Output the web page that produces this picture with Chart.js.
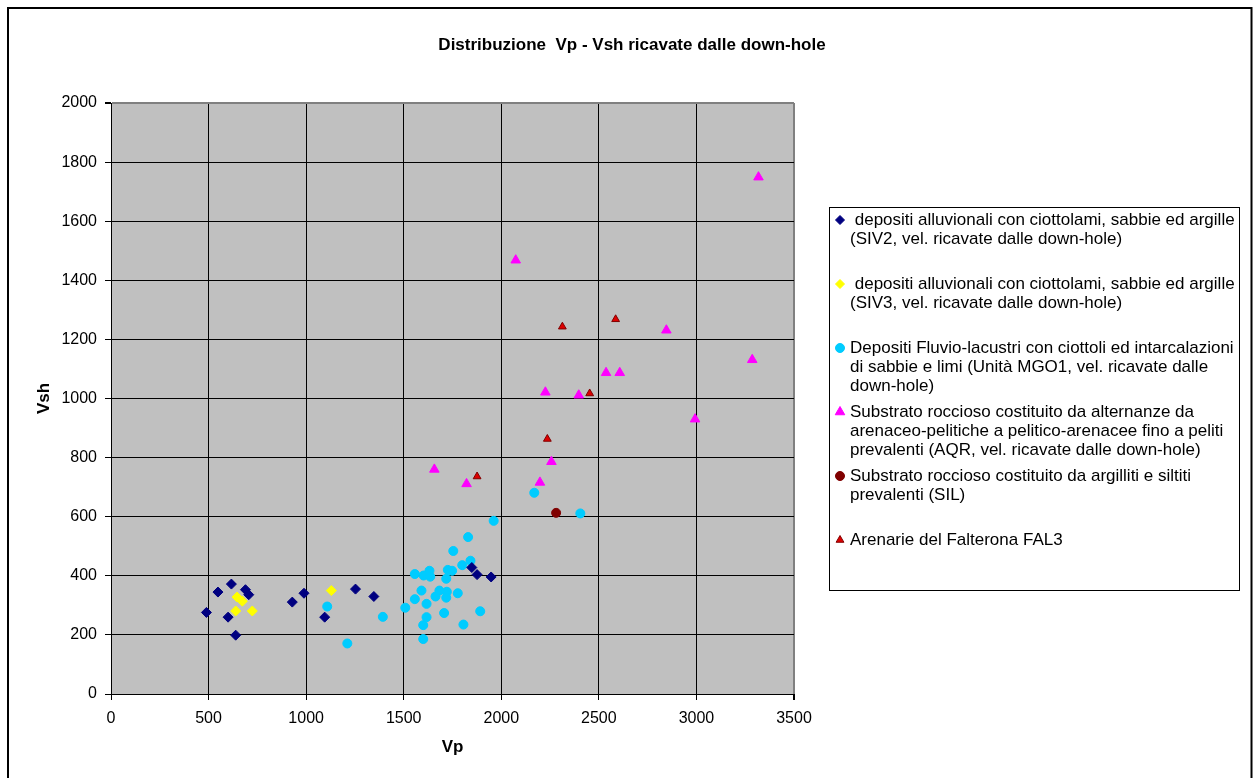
<!DOCTYPE html>
<html>
<head>
<meta charset="utf-8">
<script src="https://cdn.jsdelivr.net/npm/chart.js@4.4.1/dist/chart.umd.min.js"></script>
<style>
  html, body { margin: 0; padding: 0; background: #fff; }
  #wrap { position: relative; width: 1253px; height: 778px; }
</style>
</head>
<body>
<div id="wrap"><canvas id="chart" width="1253" height="778"></canvas></div>
<script>
// Distribuzione Vp - Vsh (down-hole)

const chartTitle = 'Distribuzione  Vp - Vsh ricavate dalle down-hole';
const xTitle = 'Vp';
const yTitle = 'Vsh';
const xTicks = [0, 500, 1000, 1500, 2000, 2500, 3000, 3500];
const yTicks = [0, 200, 400, 600, 800, 1000, 1200, 1400, 1600, 1800, 2000];

// SIV2
const siv2Vp = [489, 548, 617, 689, 706, 600, 639, 929, 989, 1095, 1253, 1347, 1849, 1876, 1948];
const siv2Vs = [276, 345, 372, 353, 336, 260, 199, 311, 341, 260, 355, 330, 428, 404, 396];

// SIV3
const siv3Vp = [646, 673, 639, 724, 1129];
const siv3Vs = [328, 314, 281, 281, 350];

// MGO1
const mgoVp = [1108, 1211, 1393, 1508, 1557, 1557, 1961, 1830, 1754, 1842, 1800, 1632, 1602, 1636, 1726, 1748,
               1718, 1591, 1683, 1721, 1777, 1663, 1718, 1617, 1892, 1707, 1617, 1600, 1806, 1600, 2405, 2169];
const mgoVs = [296, 171, 261, 292, 406, 321, 586, 531, 484, 451, 436, 417, 401, 397, 420, 417,
               390, 350, 350, 346, 341, 330, 326, 305, 280, 274, 260, 233, 235, 186, 611, 681];

// AQR
const aqrVp = [2074, 2846, 3286, 2537, 2607, 2226, 2397, 2993, 2257, 1822, 2198, 1657, 3318];
const aqrVs = [1468, 1231, 1131, 1087, 1087, 1021, 1011, 930, 786, 711, 716, 760, 1749];

// SIL
const silVp = [2281];
const silVs = [613];

// FAL3
const falVp = [2313, 2586, 2453, 2236, 1876];
const falVs = [1243, 1268, 1017, 863, 736];

const seriesNames = [
    [' depositi alluvionali con ciottolami, sabbie ed argille', '(SIV2, vel. ricavate dalle down-hole)'],
    [' depositi alluvionali con ciottolami, sabbie ed argille', '(SIV3, vel. ricavate dalle down-hole)'],
    ['Depositi Fluvio-lacustri con ciottoli ed intarcalazioni', 'di sabbie e limi (Unità MGO1, vel. ricavate dalle', 'down-hole)'],
    ['Substrato roccioso costituito da alternanze da', 'arenaceo-pelitiche a pelitico-arenacee fino a peliti', 'prevalenti (AQR, vel. ricavate dalle down-hole)'],
    ['Substrato roccioso costituito da argilliti e siltiti', 'prevalenti (SIL)'],
    ['Arenarie del Falterona FAL3']
];

const FONT = '"Liberation Sans", Arial, sans-serif';
Chart.defaults.font.family = FONT;
Chart.defaults.color = '#000';

const toPoints = (xs, ys) => xs.map((x, i) => ({ x: x, y: ys[i] }));

function drawMarker(ctx, style, x, y, r, fill, stroke, bw) {
    ctx.save();
    ctx.beginPath();
    if (style === 'rectRot') {
        ctx.moveTo(x - r, y); ctx.lineTo(x, y - r); ctx.lineTo(x + r, y); ctx.lineTo(x, y + r);
        ctx.closePath();
    } else if (style === 'triangle') {
        ctx.moveTo(x, y - r);
        ctx.lineTo(x + Math.sin(2 * Math.PI / 3) * r, y + r / 2);
        ctx.lineTo(x - Math.sin(2 * Math.PI / 3) * r, y + r / 2);
        ctx.closePath();
    } else {
        ctx.arc(x, y, r, 0, Math.PI * 2);
    }
    ctx.fillStyle = fill;
    ctx.fill();
    ctx.lineWidth = bw;
    ctx.strokeStyle = stroke;
    ctx.stroke();
    ctx.restore();
}

// frame, plot background, title and the wrapped legend
const decorations = {
    id: 'decorations',
    beforeDraw(chart) {
        const { ctx, chartArea: a } = chart;
        ctx.save();
        ctx.fillStyle = '#fff';
        ctx.fillRect(0, 0, chart.width, chart.height);
        ctx.fillStyle = '#c0c0c0';
        ctx.fillRect(a.left, a.top, a.right - a.left, a.bottom - a.top);
        ctx.lineWidth = 2;
        ctx.strokeStyle = '#000';
        ctx.strokeRect(8, 8, 1243.5, 800);
        ctx.restore();
    },
    afterDraw(chart) {
        const ctx = chart.ctx;
        ctx.save();
        ctx.fillStyle = '#000';
        ctx.font = 'bold 17px ' + FONT;
        ctx.textAlign = 'center';
        ctx.textBaseline = 'middle';
        ctx.fillText(chartTitle, 632, 45);

        // legend box
        ctx.lineWidth = 1;
        ctx.strokeStyle = '#000';
        ctx.strokeRect(829.5, 207.5, 410, 383);
        ctx.font = '17px ' + FONT;
        ctx.textAlign = 'left';
        chart.data.datasets.forEach((ds, i) => {
            const y0 = 220 + i * 64;
            drawMarker(ctx, ds.pointStyle, 840, y0, ds.legendRadius, ds.backgroundColor, ds.borderColor, 1);
            seriesNames[i].forEach((line, j) => {
                ctx.fillText(line, 850, y0 + j * 19.3);
            });
        });
        ctx.restore();
    }
};

const gridColor = (edge) => (c) => (c.tick && c.tick.value === edge ? '#808080' : '#000');
const gridWidth = (edge) => (c) => (c.tick && c.tick.value === edge ? 2 : 1);

new Chart(document.getElementById('chart'), {
    type: 'scatter',
    data: {
        datasets: [
            {
                label: seriesNames[0].join(' '),
                data: toPoints(siv2Vp, siv2Vs),
                pointStyle: 'rectRot',
                backgroundColor: '#000080',
                borderColor: '#000080',
                pointRadius: 5,
                borderWidth: 1,
                legendRadius: 4.5
            },
            {
                label: seriesNames[1].join(' '),
                data: toPoints(siv3Vp, siv3Vs),
                pointStyle: 'rectRot',
                backgroundColor: '#ffff00',
                borderColor: '#ffff00',
                pointRadius: 5,
                borderWidth: 1,
                legendRadius: 4.5
            },
            {
                label: seriesNames[2].join(' '),
                data: toPoints(mgoVp, mgoVs),
                pointStyle: 'circle',
                backgroundColor: '#00ccff',
                borderColor: '#00ccff',
                pointRadius: 4.5,
                borderWidth: 1,
                legendRadius: 4.5
            },
            {
                label: seriesNames[3].join(' '),
                data: toPoints(aqrVp, aqrVs),
                pointStyle: 'triangle',
                backgroundColor: '#ff00ff',
                borderColor: '#ff00ff',
                pointRadius: 5.5,
                borderWidth: 1,
                legendRadius: 5.5
            },
            {
                label: seriesNames[4].join(' '),
                data: toPoints(silVp, silVs),
                pointStyle: 'circle',
                backgroundColor: '#800000',
                borderColor: '#800000',
                pointRadius: 4.5,
                borderWidth: 1,
                legendRadius: 4.5
            },
            {
                label: seriesNames[5].join(' '),
                data: toPoints(falVp, falVs),
                pointStyle: 'triangle',
                backgroundColor: '#dd0000',
                borderColor: '#800000',
                pointRadius: 4.5,
                borderWidth: 1,
                legendRadius: 4.5
            }
        ]
    },
    options: {
        responsive: false,
        animation: false,
        layout: { padding: { top: 103, right: 459, bottom: 0, left: 0 } },
        plugins: {
            legend: { display: false },
            title: { display: false },
            tooltip: { enabled: false }
        },
        scales: {
            x: {
                type: 'linear',
                position: 'bottom',
                min: 0,
                max: 3500,
                afterBuildTicks: s => { s.ticks = xTicks.map(v => ({ value: v })); },
                afterFit: s => { s.height = 84; },
                ticks: { font: { size: 16 }, color: '#000', padding: 9, maxRotation: 0, autoSkip: false, callback: v => String(v) },
                grid: { color: gridColor(3500), lineWidth: gridWidth(3500), tickLength: 6, tickColor: '#000' },
                border: { color: '#000', width: 1 },
                title: { display: true, text: xTitle, font: { size: 17, weight: 'bold' }, color: '#000', padding: { top: 0, bottom: 20 } }
            },
            y: {
                type: 'linear',
                position: 'left',
                min: 0,
                max: 2000,
                afterBuildTicks: s => { s.ticks = yTicks.map(v => ({ value: v })); },
                afterFit: s => { s.width = 111; },
                ticks: { font: { size: 16 }, color: '#000', padding: 8, autoSkip: false, callback: v => String(v) },
                grid: { color: gridColor(2000), lineWidth: gridWidth(2000), tickLength: 6, tickColor: '#000' },
                border: { color: '#000', width: 1 },
                title: { display: true, text: yTitle, font: { size: 17, weight: 'bold' }, color: '#000', padding: { top: 34, bottom: 0 } }
            }
        }
    },
    plugins: [decorations]
});
</script>
</body>
</html>
